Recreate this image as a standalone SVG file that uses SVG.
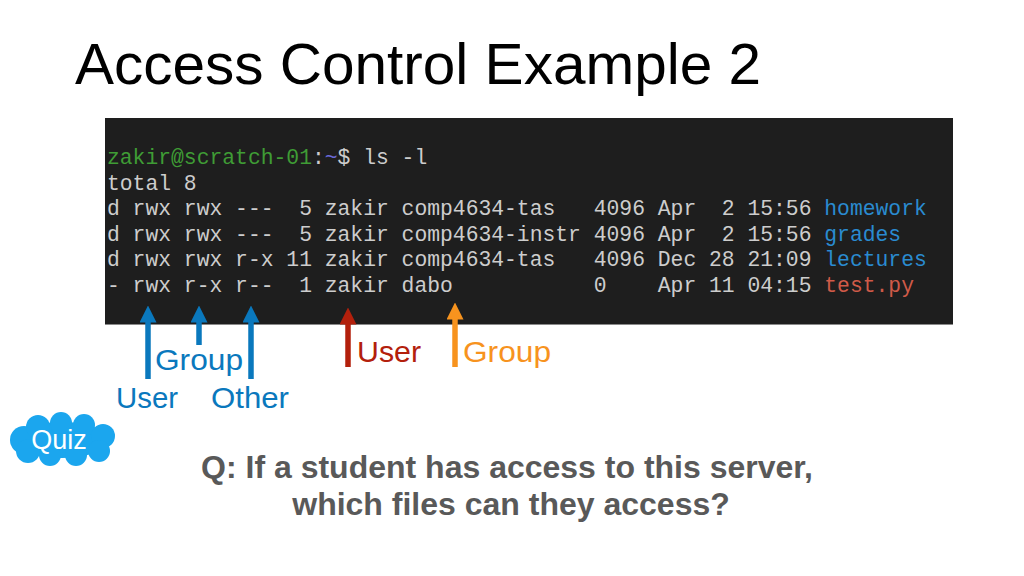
<svg xmlns="http://www.w3.org/2000/svg" width="1024" height="576" viewBox="0 0 1024 576">
<style>
.title{font-family:"Liberation Sans",Arial,sans-serif;font-size:57px;fill:#000}
.mono{font-family:"Liberation Mono","Courier New",monospace;font-size:21.35px;fill:#cdcdcd;white-space:pre}
.lbl{font-family:"Liberation Sans",Arial,sans-serif;font-size:30px}
.blue{fill:#0a78bd}
.red{fill:#b3200c}
.orange{fill:#f7931e}
.q{font-family:"Liberation Sans",Arial,sans-serif;font-size:32px;font-weight:bold;fill:#595959}
.shaft{stroke-width:5.5;fill:none}
</style>
<defs>
<marker id="hb" markerUnits="userSpaceOnUse" viewBox="0 0 17 17" refX="0.5" refY="8.5" markerWidth="17" markerHeight="17" orient="auto"><path d="M0,0 L17,8.5 L0,17 z" fill="#0a78bd"/></marker>
<marker id="hr" markerUnits="userSpaceOnUse" viewBox="0 0 17 17" refX="0.5" refY="8.5" markerWidth="17" markerHeight="17" orient="auto"><path d="M0,0 L17,8.5 L0,17 z" fill="#b3200c"/></marker>
<marker id="ho" markerUnits="userSpaceOnUse" viewBox="0 0 17 17" refX="0.5" refY="8.5" markerWidth="17" markerHeight="17" orient="auto"><path d="M0,0 L17,8.5 L0,17 z" fill="#f7931e"/></marker>
</defs>
<rect width="1024" height="576" fill="#fff"/>
<g id="title"><text class="title" x="75" y="84" textLength="686" lengthAdjust="spacingAndGlyphs">Access Control Example 2</text></g>
<g id="terminal">
<rect x="105" y="118" width="848" height="207" fill="#1e1e1e"/>
<line x1="105" y1="324.5" x2="953" y2="324.5" stroke="#8a8a8a" stroke-width="1"/>
<text class="mono" x="107" y="164" xml:space="preserve"><tspan fill="#3f9c35">zakir@scratch-01</tspan>:<tspan fill="#6a6ad8">~</tspan>$ ls -l</text>
<text class="mono" x="107" y="189.6" xml:space="preserve">total 8</text>
<text class="mono" x="107" y="215.2" xml:space="preserve">d rwx rwx ---  5 zakir comp4634-tas   4096 Apr  2 15:56 <tspan fill="#2a8bd0">homework</tspan></text>
<text class="mono" x="107" y="240.8" xml:space="preserve">d rwx rwx ---  5 zakir comp4634-instr 4096 Apr  2 15:56 <tspan fill="#2a8bd0">grades</tspan></text>
<text class="mono" x="107" y="266.4" xml:space="preserve">d rwx rwx r-x 11 zakir comp4634-tas   4096 Dec 28 21:09 <tspan fill="#2a8bd0">lectures</tspan></text>
<text class="mono" x="107" y="292" xml:space="preserve">- rwx r-x r--  1 zakir dabo           0    Apr 11 04:15 <tspan fill="#cf5a48">test.py</tspan></text>
</g>
<g id="connectors">
<line class="shaft" x1="148" y1="379" x2="148" y2="322" stroke="#0a78bd" marker-end="url(#hb)"/>
<line class="shaft" x1="199" y1="345" x2="199" y2="322" stroke="#0a78bd" marker-end="url(#hb)"/>
<line class="shaft" x1="251" y1="379" x2="251" y2="322" stroke="#0a78bd" marker-end="url(#hb)"/>
<line class="shaft" x1="348" y1="367" x2="348" y2="324" stroke="#b3200c" marker-end="url(#hr)"/>
<line class="shaft" x1="455" y1="367" x2="455" y2="319" stroke="#f7931e" marker-end="url(#ho)"/>
</g>
<g id="label-group-blue"><text class="lbl blue" x="155" y="370" textLength="88" lengthAdjust="spacingAndGlyphs">Group</text></g>
<g id="label-user-blue"><text class="lbl blue" x="116" y="408" textLength="62" lengthAdjust="spacingAndGlyphs">User</text></g>
<g id="label-other-blue"><text class="lbl blue" x="211" y="408" textLength="78" lengthAdjust="spacingAndGlyphs">Other</text></g>
<g id="label-user-red"><text class="lbl red" x="357" y="362" textLength="64" lengthAdjust="spacingAndGlyphs">User</text></g>
<g id="label-group-orange"><text class="lbl orange" x="463" y="362" textLength="88" lengthAdjust="spacingAndGlyphs">Group</text></g>
<g id="quiz">
<g fill="#1ba6ee">
<ellipse cx="62" cy="440" rx="46" ry="18"/>
<circle cx="24" cy="440" r="14"/>
<circle cx="38" cy="427" r="12"/>
<circle cx="61" cy="423" r="11"/>
<circle cx="84" cy="425" r="11"/>
<circle cx="103" cy="436" r="12"/>
<circle cx="99" cy="451" r="11"/>
<circle cx="76" cy="455" r="11"/>
<circle cx="50" cy="455" r="11"/>
<circle cx="28" cy="451" r="12"/>
</g>
<text x="59" y="449" text-anchor="middle" font-family="Liberation Sans, Arial, sans-serif" font-size="27" fill="#fff">Quiz</text>
</g>
<g id="question">
<text class="q" x="507" y="478" text-anchor="middle">Q: If a student has access to this server,</text>
<text class="q" x="511" y="515" text-anchor="middle">which files can they access?</text>
</g>
</svg>
